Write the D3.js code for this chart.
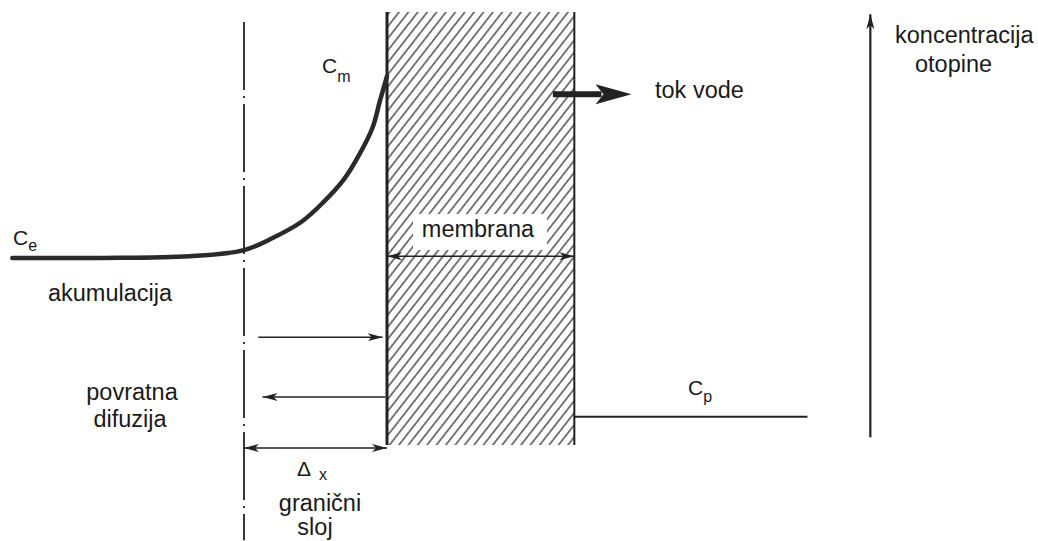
<!DOCTYPE html>
<html>
<head>
<meta charset="utf-8">
<script src="https://cdn.jsdelivr.net/npm/d3@7"></script>
<style>
	body { margin: 0; background: #fff; }
	text { font-family: "Liberation Sans", Arial, sans-serif; fill: #1a1a1a; }
</style>
</head>
<body>
<svg></svg>
<script>
// distance: in boundary-layer thicknesses (0 = outer edge of layer, 1 = membrane face)
// concentration: relative units (0..10 = height of the membrane)
const profileX = [-1.62, -1.0, -0.38, 0, 0.2, 0.4, 0.55, 0.7, 0.8, 0.9, 0.95, 1.0];
const profileC = [4.32, 4.32, 4.36, 4.5, 4.78, 5.15, 5.59, 6.14, 6.67, 7.34, 7.94, 8.52];
const membraneX = [1, 2.31];
const permeateX = [2.31, 3.94];
const permeateC = 0.65;
const layerEdge = [9.77, -2.2];
const concAxis = [4.38, 0.18, 9.95];
const flowArrow = [2.16, 2.71, 8.1];
// [from, to, level, double]
const arrows = [
	[0.1, 0.97, 2.49, false],
	[0.99, 0.13, 1.11, false],
	[0.0, 1.0, -0.07, true],
	[1.0, 2.31, 4.36, true],
];

const svg = d3.select("svg");
svg.attr("width", 1038).attr("height", 541);

const x = d3.scaleLinear().domain([0, 1]).range([244, 387]);
const y = d3.scaleLinear().domain([0, 10]).range([445, 12]);

const defs = svg.append("defs");
const hatch = defs
	.append("pattern")
	.attr("id", "hatch")
	.attr("patternUnits", "userSpaceOnUse")
	.attr("width", 7.4)
	.attr("height", 10)
	.attr("patternTransform", "rotate(38)");
hatch
	.append("line")
	.attr("x1", 3.7)
	.attr("x2", 3.7)
	.attr("y1", 0)
	.attr("y2", 10)
	.attr("stroke", "#333")
	.attr("stroke-width", 1.3);

defs
	.append("marker")
	.attr("id", "head")
	.attr("markerUnits", "userSpaceOnUse")
	.attr("markerWidth", 16)
	.attr("markerHeight", 10)
	.attr("refX", 15)
	.attr("refY", 5)
	.attr("orient", "auto-start-reverse")
	.append("path")
	.attr("d", "M0,1 L15,5 L0,9 L4,5 Z")
	.attr("fill", "#222");

// membrane
svg
	.append("rect")
	.attr("x", x(membraneX[0]))
	.attr("y", y(10))
	.attr("width", x(membraneX[1]) - x(membraneX[0]))
	.attr("height", y(0) - y(10))
	.attr("fill", "url(#hatch)");
svg
	.append("line")
	.attr("x1", x(membraneX[0]))
	.attr("x2", x(membraneX[0]))
	.attr("y1", y(10))
	.attr("y2", y(0))
	.attr("stroke", "#222")
	.attr("stroke-width", 3);
svg
	.append("line")
	.attr("x1", x(membraneX[1]))
	.attr("x2", x(membraneX[1]))
	.attr("y1", y(10))
	.attr("y2", y(0))
	.attr("stroke", "#222")
	.attr("stroke-width", 2);

// white gap for the "membrana" label
svg
	.append("rect")
	.attr("x", 413)
	.attr("y", 214)
	.attr("width", 134)
	.attr("height", 36)
	.attr("fill", "#fff");

// boundary layer edge
svg
	.append("line")
	.attr("x1", x(0))
	.attr("x2", x(0))
	.attr("y1", y(layerEdge[0]))
	.attr("y2", y(layerEdge[1]))
	.attr("stroke", "#222")
	.attr("stroke-width", 1.8)
	.attr("stroke-dasharray", "68 6 2 6");

// concentration profile
const line = d3
	.line()
	.x((d) => x(d[0]))
	.y((d) => y(d[1]))
	.curve(d3.curveCatmullRom.alpha(0.5));

svg
	.append("path")
	.attr("d", line(d3.zip(profileX, profileC)))
	.attr("fill", "none")
	.attr("stroke", "#2a2a2a")
	.attr("stroke-width", 4.5)
	.attr("stroke-linecap", "round");

// permeate concentration
svg
	.append("line")
	.attr("x1", x(permeateX[0]))
	.attr("x2", x(permeateX[1]))
	.attr("y1", y(permeateC))
	.attr("y2", y(permeateC))
	.attr("stroke", "#222")
	.attr("stroke-width", 2);

// thin arrows
svg
	.append("g")
	.selectAll("line")
	.data(arrows)
	.join("line")
	.attr("x1", (d) => x(d[0]))
	.attr("x2", (d) => x(d[1]))
	.attr("y1", (d) => y(d[2]))
	.attr("y2", (d) => y(d[2]))
	.attr("stroke", "#222")
	.attr("stroke-width", 1.6)
	.attr("marker-end", "url(#head)")
	.attr("marker-start", (d) => (d[3] ? "url(#head)" : null));

// water flow arrow
const fy = y(flowArrow[2]);
const fTip = x(flowArrow[1]);
svg
	.append("line")
	.attr("x1", x(flowArrow[0]))
	.attr("x2", fTip - 30)
	.attr("y1", fy)
	.attr("y2", fy)
	.attr("stroke", "#222")
	.attr("stroke-width", 6);
svg
	.append("path")
	.attr("d", `M${fTip},${fy} L${fTip - 36},${fy - 10} L${fTip - 28},${fy} L${fTip - 36},${fy + 10} Z`)
	.attr("fill", "#222");

// concentration axis
svg
	.append("line")
	.attr("x1", x(concAxis[0]))
	.attr("x2", x(concAxis[0]))
	.attr("y1", y(concAxis[1]))
	.attr("y2", y(concAxis[2]))
	.attr("stroke", "#222")
	.attr("stroke-width", 2.2)
	.attr("marker-end", "url(#head)");

// labels
function label(text, px, py, size = 23.5, anchor = "start") {
	return svg
		.append("text")
		.attr("x", px)
		.attr("y", py)
		.attr("font-size", size)
		.attr("text-anchor", anchor)
		.text(text);
}

function conc(sub, px, py, dy) {
	const t = label("C", px, py, 21);
	t.append("tspan").attr("dy", dy).attr("font-size", 16).text(sub);
}

conc("e", 13, 245, 6);
conc("m", 322, 73, 9);
conc("p", 688, 395, 7);

label("akumulacija", 110, 301, 23.5, "middle");
label("povratna", 132, 400, 23.5, "middle");
label("difuzija", 130, 427, 23.5, "middle");
label("membrana", 478, 237, 23.5, "middle");
label("tok vode", 655, 98);
label("koncentracija", 895, 43);
label("otopine", 915, 72);

const dx = label("Δ", 297, 476, 21);
dx.append("tspan").attr("dx", 8).attr("dy", 4).attr("font-size", 16).text("x");
label("granični", 320, 511, 23.5, "middle");
label("sloj", 315, 535, 23.5, "middle");
</script>
</body>
</html>
